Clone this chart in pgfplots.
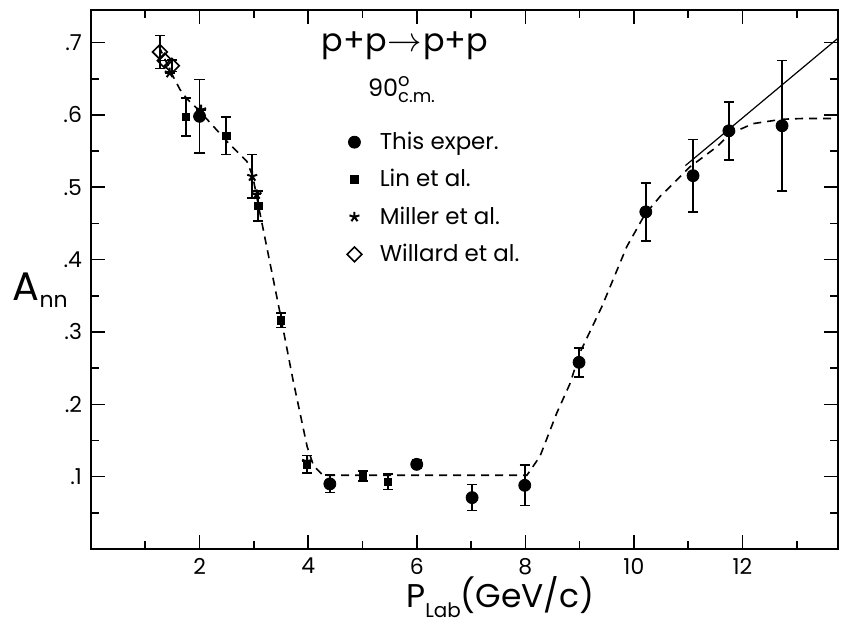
\documentclass[border=0pt]{standalone}
\usepackage{pgfplots}
\pgfplotsset{compat=1.18}
\usepackage{fontspec}
\setmainfont{Poppins}
\usetikzlibrary{plotmarks}

% A_nn at 90 deg c.m. : p+p -> p+p
\begin{document}
\begin{tikzpicture}
\useasboundingbox (-45.5bp,-40.5bp) rectangle (377bp,274.5bp);
\begin{axis}[
  at={(0,0)}, anchor=south west,
  scale only axis, width=373.5bp, height=269.5bp,
  xmin=0, xmax=13.76, ymin=0, ymax=0.745,
  axis line style={line width=1bp},
  tick align=inside, tick pos=both,
  major tick length=7bp, minor tick length=4bp,
  every tick/.style={black, line width=0.8bp},
  xtick={2,4,6,8,10,12}, minor xtick={1,3,5,7,9,11,13},
  ytick={0.1,0.2,0.3,0.4,0.5,0.6,0.7},
  yticklabels={.1,.2,.3,.4,.5,.6,.7},
  minor ytick={0.05,0.15,0.25,0.35,0.45,0.55,0.65},
  /pgf/number format/assume math mode=true,
  tick label style={font=\fontsize{11}{13}\selectfont},
  xticklabel style={yshift=-1bp},
  yticklabel style={xshift=-1bp},
  xlabel={P\raisebox{-0.55ex}{\fontsize{10}{12}\selectfont Lab}(GeV/c)},
  xlabel style={font=\fontsize{16.5}{20}\selectfont, at={(axis description cs:0.548,-0.108)}, anchor=base},
  ylabel={A\raisebox{-0.35ex}{\fontsize{11}{13}\selectfont nn}},
  ylabel style={font=\fontsize{20}{23}\selectfont, rotate=-90, at={(axis description cs:-0.068,0.48)}, anchor=center},
  legend style={draw=none, fill=none, at={(axis cs:4.6,0.588)}, anchor=north west,
    font=\fontsize{11.5}{13}\selectfont, row sep=4.5bp,
    /tikz/every odd column/.append style={column sep=7bp}},
  legend cell align=left,
  clip=true,
]

% fitted curve (dashed)
\addplot[black, line width=0.8bp, dash pattern=on 4bp off 3bp, forget plot] coordinates {
 (1.25,0.695) (1.50,0.655) (1.64,0.635) (1.77,0.622) (1.98,0.607) (2.51,0.563)
 (2.87,0.536) (2.98,0.515) (3.11,0.465) (3.48,0.327) (3.72,0.234) (3.98,0.142)
 (4.10,0.115) (4.27,0.102) (5.00,0.102) (6.00,0.102) (7.00,0.102) (8.03,0.102)
 (8.27,0.128) (8.58,0.188) (8.82,0.228) (9.01,0.272) (9.41,0.335) (9.87,0.418)
 (10.20,0.462) (10.48,0.487) (11.03,0.528) (11.53,0.556) (11.77,0.574)
 (12.20,0.588) (12.73,0.594) (13.10,0.595) (13.76,0.595)
};
% straight line continuation
\addplot[black, line width=0.6bp, forget plot] coordinates {
 (10.95,0.530) (13.76,0.706)
};

% This experiment
\addplot[only marks, mark=*, mark size=3bp, black,
  error bars/.cd, y dir=both, y explicit,
  error bar style={line width=0.8bp}, error mark options={rotate=90, mark size=2.6bp, line width=0.8bp}]
  table[x=x, y=y, y error=e] {
x      y      e
2.00   0.598  0.051
4.40   0.090  0.012
6.00   0.117  0.006
7.02   0.071  0.018
7.99   0.088  0.028
8.99   0.258  0.020
10.22  0.466  0.040
11.09  0.516  0.050
11.75  0.578  0.040
12.73  0.585  0.090
};
\addlegendentry{This exper.}

% Lin et al.
\addplot[only marks, mark=square*, mark size=1.9bp, black,
  error bars/.cd, y dir=both, y explicit,
  error bar style={line width=0.8bp}, error mark options={rotate=90, mark size=2.4bp, line width=0.8bp}]
  table[x=x, y=y, y error=e] {
x      y      e
1.75   0.597  0.026
2.49   0.571  0.026
3.08   0.474  0.021
3.50   0.316  0.010
3.98   0.117  0.012
5.01   0.101  0.007
5.47   0.093  0.011
};
\addlegendentry{Lin et al.}

% Miller et al.
\addplot[only marks, mark=star, mark size=2.6bp, black, mark options={line width=1bp},
  error bars/.cd, y dir=both, y explicit,
  error bar style={line width=0.8bp}, error mark options={rotate=90, mark size=2.4bp, line width=0.8bp}]
  table[x=x, y=y, y error=e] {
x      y      e
1.45   0.658  0.000
2.03   0.607  0.000
2.97   0.515  0.030
3.05   0.490  0.000
3.98   0.121  0.000
};
\addlegendentry{Miller et al.}

% Willard et al.
\addplot[only marks, mark=square, mark size=2.6bp, black, mark options={rotate=45, fill=white, line width=0.8bp},
  error bars/.cd, y dir=both, y explicit,
  error bar style={line width=0.8bp}, error mark options={rotate=90, mark size=2.4bp, line width=0.8bp}]
  table[x=x, y=y, y error=e] {
x      y      e
1.27   0.687  0.023
1.36   0.675  0.000
1.49   0.668  0.008
};
\addlegendentry{Willard et al.}

\node[font=\fontsize{16}{19}\selectfont, anchor=center] at (axis cs:5.78,0.695) {p+p\kern0.5bp$\rightarrow$\kern0.5bp p+p};
\node[font=\fontsize{12}{14}\selectfont, anchor=center] at (axis cs:5.72,0.635)
  {90\rlap{\raisebox{0.75ex}{\fontsize{9}{10}\selectfont o}}\raisebox{-0.45ex}{\fontsize{9}{10}\selectfont c.m.}};
\end{axis}
\end{tikzpicture}
\end{document}
